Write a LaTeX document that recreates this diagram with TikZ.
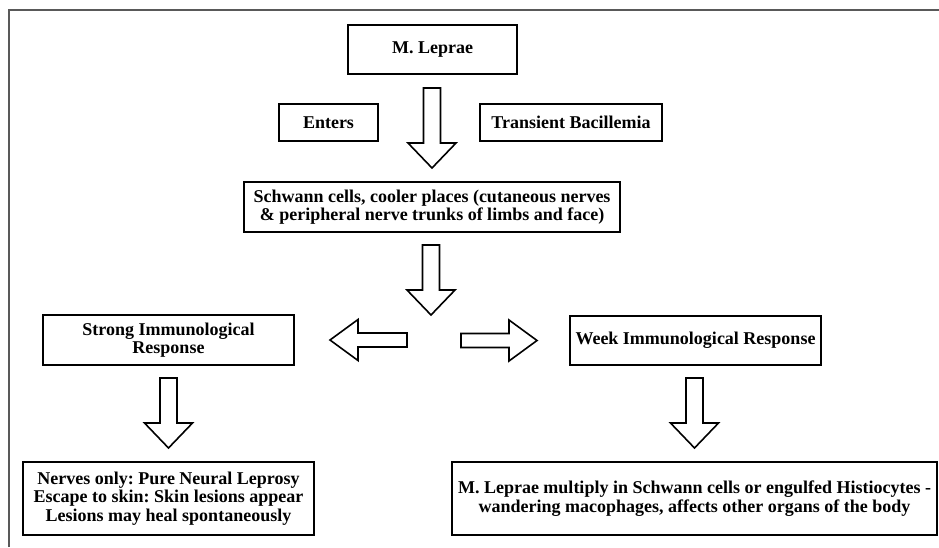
\documentclass[tikz,border=0pt]{standalone}
\usepackage{fontspec}
\setmainfont{Liberation Serif}
\usetikzlibrary{calc}
\frenchspacing
\tikzset{
  box/.style={draw=black, line width=2pt, inner sep=0pt, align=center,
    font=\fontsize{18}{18.5}\selectfont\bfseries},
  blk/.style={draw=black, line width=1.6pt, fill=white, line join=miter},
  frame/.style={draw=black!65, line width=2pt}
}
% vertical block arrow: #1 top point, #2 tip point
\newcommand\varr[2]{%
  \path[blk] let \p1=(#1), \p2=(#2) in
    (\x2-8.5pt,\y1) -- (\x2+8.5pt,\y1) -- (\x2+8.5pt,\y2+25pt) -- (\x2+24pt,\y2+25pt)
    -- (\x2,\y2) -- (\x2-24pt,\y2+25pt) -- (\x2-8.5pt,\y2+25pt) -- cycle;}
% horizontal block arrow: #1 tail point, #2 tip point, #3 signed head length
\newcommand\harr[3]{%
  \path[blk] let \p1=(#1), \p2=(#2) in
    (\x1,\y2-7pt) -- (\x1,\y2+7pt) -- (\x2+#3,\y2+7pt) -- (\x2+#3,\y2+20.5pt)
    -- (\x2,\y2) -- (\x2+#3,\y2-20.5pt) -- (\x2+#3,\y2-7pt) -- cycle;}
\begin{document}
\begin{tikzpicture}[x=1pt,y=-1pt]
\useasboundingbox (0,0) rectangle (939,547);
\draw[frame] (9,547) -- (9,10) -- (939,10);

\node[box, minimum width=169pt, minimum height=49pt] (lep) at (432.5,49.5) {M. Leprae};
\node[box, minimum width=99pt, minimum height=37pt] (enters) at (328.5,122.5) {Enters};
\node[box, minimum width=182pt, minimum height=37pt] (trans) at (571,122.5) {Transient Bacillemia};
\node[box, minimum width=376pt, minimum height=50pt] (schw) at (432,207)
  {Schwann cells, cooler places (cutaneous nerves\\ \& peripheral nerve trunks of limbs and face)};
\node[box, minimum width=251pt, minimum height=50pt] (strong) at (168.5,340)
  {Strong Immunological\\Response};
\node[box, minimum width=251pt, minimum height=49pt] (week) at (695.5,340.5)
  {Week Immunological Response};
\node[box, minimum width=291pt, minimum height=73pt] (nerves) at (168.5,498.5)
  {Nerves only: Pure Neural Leprosy\\Escape to skin: Skin lesions appear\\Lesions may heal spontaneously};
\node[box, minimum width=485pt, minimum height=73pt] (mult) at (694.5,498.5)
  {M. Leprae multiply in Schwann cells or engulfed Histiocytes -\\wandering macophages, affects other organs of the body};
\coordinate (fork) at (433,340);

\varr{$(lep.south)+(0,13)$}{$(schw.north)+(0,-13)$}
\varr{$(schw.south)+(0,12)$}{$(fork)+(-2,-25)$}
\harr{$(fork)+(-26,0)$}{$(strong.east)+(35,0)$}{28pt}
\harr{$(fork)+(28,0)$}{$(week.west)+(-32,0)$}{-28pt}
\varr{$(strong.south)+(0,12)$}{$(nerves.north)+(0,-13)$}
\varr{$(week.south)+(0,12)$}{$(mult.north)+(0,-13)$}
\end{tikzpicture}
\end{document}
